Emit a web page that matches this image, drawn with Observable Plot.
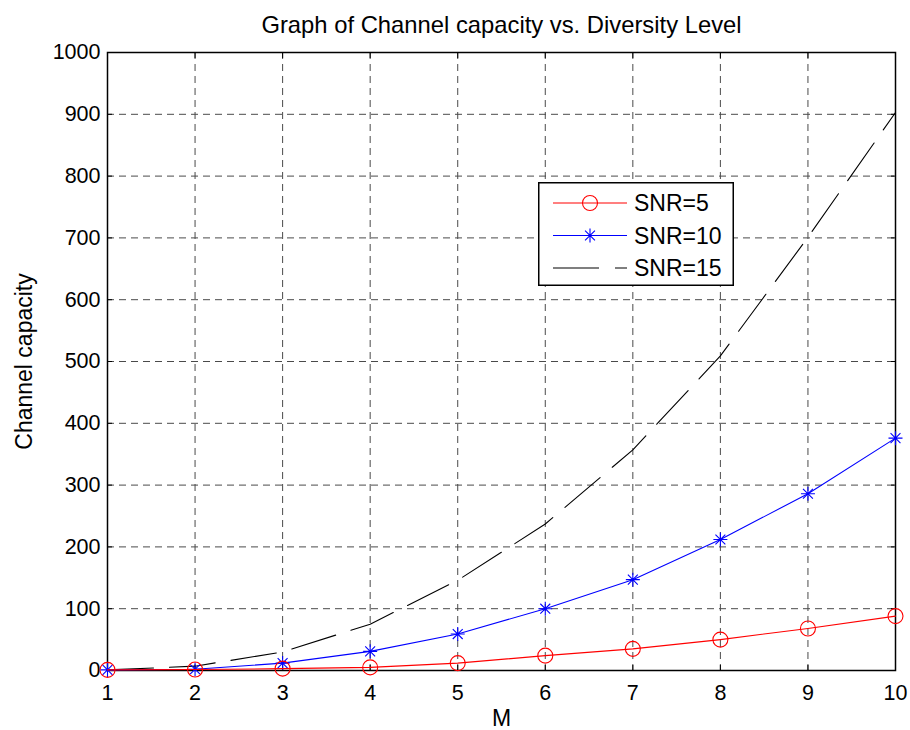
<!DOCTYPE html>
<html>
<head>
<meta charset="utf-8">
<script src="https://cdn.jsdelivr.net/npm/d3@7"></script>
<script src="https://cdn.jsdelivr.net/npm/@observablehq/plot@0.6"></script>
<style>
  html, body { margin: 0; padding: 0; background: #fff; }
  #wrap { position: relative; width: 910px; height: 730px; }
  #legend { position: absolute; left: 538px; top: 182px; }
</style>
</head>
<body>
<div id="wrap"></div>
<script>
const M = [1, 2, 3, 4, 5, 6, 7, 8, 9, 10];
const snr5 = [1, 1.5, 3, 5, 12, 24, 35, 50, 68, 88];
const snr10 = [1, 2, 12, 31, 59, 100, 147, 212, 286, 376];
const snr15 = [1, 7, 30, 75, 146, 237, 357, 509, 701, 903];
const seriesNames = ["SNR=5", "SNR=10", "SNR=15"];
const yTicks = d3.range(0, 1001, 100);
const title = "Graph of Channel capacity vs. Diversity Level";
const xLabel = "M";
const yLabel = "Channel capacity";

const d5 = M.map((m, i) => ({M: m, C: snr5[i]}));
const d10 = M.map((m, i) => ({M: m, C: snr10[i]}));
const d15 = M.map((m, i) => ({M: m, C: snr15[i]}));

const star8 = {
  draw(ctx, size) {
    const r = Math.sqrt(size / Math.PI);
    const d = r * Math.SQRT1_2;
    ctx.moveTo(0, -r); ctx.lineTo(0, r);
    ctx.moveTo(-r, 0); ctx.lineTo(r, 0);
    ctx.moveTo(-d, -d); ctx.lineTo(d, d);
    ctx.moveTo(-d, d); ctx.lineTo(d, -d);
  }
};

const font = "'Liberation Sans', Arial, Helvetica, sans-serif";
const gridColor = "#4a4a4a";

const chart = Plot.plot({
  width: 910,
  height: 730,
  marginLeft: 107,
  marginRight: 15,
  marginTop: 52,
  marginBottom: 60,
  style: {fontFamily: font, fontSize: "21.5px", color: "#000", background: "#fff"},
  x: {domain: [1, 10], ticks: M},
  y: {domain: [0, 1000], ticks: yTicks},
  marks: [
    Plot.gridX(M, {stroke: gridColor, strokeOpacity: 1, strokeDasharray: "7,5"}),
    Plot.gridY(yTicks, {stroke: gridColor, strokeOpacity: 1, strokeDasharray: "7,5"}),
    Plot.frame({stroke: "#000", strokeWidth: 1.5}),
    // inward tick marks on all four sides
    Plot.axisX(M, {anchor: "bottom", tickSize: 5, dy: -5, text: null, label: null}),
    Plot.axisX(M, {anchor: "top", tickSize: 5, dy: 5, text: null, label: null}),
    Plot.axisY(yTicks, {anchor: "left", tickSize: 5, dx: 5, text: null, label: null}),
    Plot.axisY(yTicks, {anchor: "right", tickSize: 5, dx: -5, text: null, label: null}),
    // tick labels
    Plot.axisX(M, {anchor: "bottom", tickSize: 0, tickPadding: 14, label: null, fontSize: 21.5, tickFormat: d3.format("d")}),
    Plot.axisY(yTicks, {anchor: "left", tickSize: 0, tickPadding: 7, label: null, fontSize: 21.5, tickFormat: d3.format("d")}),
    // series
    Plot.line(d15, {x: "M", y: "C", stroke: "#000", strokeWidth: 1.1, strokeDasharray: "46,16"}),
    Plot.line(d10, {x: "M", y: "C", stroke: "#0000ff", strokeWidth: 1.1}),
    Plot.dot(d10, {x: "M", y: "C", stroke: "#0000ff", symbol: star8, r: 7, strokeWidth: 1.1}),
    Plot.line(d5, {x: "M", y: "C", stroke: "#ff0000", strokeWidth: 1.1}),
    Plot.dot(d5, {x: "M", y: "C", stroke: "#ff0000", fill: "none", r: 7.5, strokeWidth: 1.1}),
    // title and axis labels
    Plot.text([title], {frameAnchor: "top", dy: -20, lineAnchor: "bottom", textAnchor: "middle", text: d => d, fontSize: 23.8}),
    Plot.text([xLabel], {frameAnchor: "bottom", dy: 55, lineAnchor: "bottom", textAnchor: "middle", text: d => d, fontSize: 23}),
    Plot.text([yLabel], {frameAnchor: "left", dx: -76, rotate: -90, lineAnchor: "bottom", textAnchor: "middle", text: d => d, fontSize: 23})
  ]
});

const wrap = document.getElementById("wrap");
wrap.appendChild(chart);

// legend overlay
const lw = 196, lh = 104;
const legend = d3.select(wrap).append("svg")
  .attr("id", "legend")
  .attr("width", lw).attr("height", lh)
  .style("font-family", font);
legend.append("rect").attr("x", 0.75).attr("y", 0.75).attr("width", lw - 1.5).attr("height", lh - 1.5)
  .attr("fill", "#fff").attr("stroke", "#000").attr("stroke-width", 1.5);
const rows = [
  {name: seriesNames[0], color: "#ff0000", dash: null, marker: "circle"},
  {name: seriesNames[1], color: "#0000ff", dash: null, marker: "star"},
  {name: seriesNames[2], color: "#000", dash: "46,16", marker: null}
];
rows.forEach((r, i) => {
  const y = 21 + i * 32.5;
  legend.append("line").attr("x1", 15).attr("x2", 89).attr("y1", y).attr("y2", y)
    .attr("stroke", r.color).attr("stroke-width", 1.1).attr("stroke-dasharray", r.dash);
  if (r.marker === "circle") {
    legend.append("circle").attr("cx", 52).attr("cy", y).attr("r", 7.5)
      .attr("fill", "none").attr("stroke", r.color).attr("stroke-width", 1.1);
  } else if (r.marker === "star") {
    const p = d3.path(); star8.draw(p, Math.PI * 49);
    legend.append("path").attr("d", p.toString()).attr("transform", `translate(52,${y})`)
      .attr("fill", "none").attr("stroke", r.color).attr("stroke-width", 1.1);
  }
  legend.append("text").attr("x", 96).attr("y", y + 8).attr("font-size", 23).attr("fill", "#000").text(r.name);
});
</script>
</body>
</html>
